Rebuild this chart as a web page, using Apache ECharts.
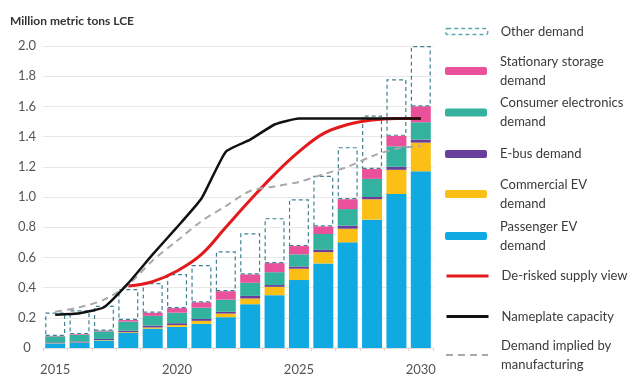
<!DOCTYPE html>
<html>
<head>
<meta charset="utf-8">
<script src="https://cdn.jsdelivr.net/npm/echarts@6/dist/echarts.min.js"></script>
<style>
html,body{margin:0;padding:0;background:#fff;}
#chart{width:644px;height:376px;}
</style>
</head>
<body>
<div id="chart"></div>
<script>
const years = ['2015','2016','2017','2018','2019','2020','2021','2022','2023','2024','2025','2026','2027','2028','2029','2030'];
const passengerEV = [0.030,0.035,0.050,0.100,0.128,0.140,0.160,0.204,0.290,0.350,0.450,0.560,0.700,0.850,1.020,1.170];
const commercialEV = [0.002,0.002,0.003,0.005,0.008,0.012,0.020,0.024,0.038,0.055,0.075,0.075,0.090,0.135,0.160,0.190];
const eBus = [0.005,0.006,0.007,0.010,0.012,0.012,0.012,0.012,0.017,0.012,0.015,0.015,0.020,0.015,0.020,0.020];
const consumerElectronics = [0.040,0.045,0.050,0.060,0.065,0.070,0.075,0.080,0.087,0.085,0.080,0.105,0.110,0.120,0.135,0.115];
const stationaryStorage = [0.003,0.004,0.005,0.010,0.020,0.030,0.035,0.056,0.055,0.060,0.055,0.050,0.065,0.065,0.070,0.105];
const otherDemand = [0.155,0.158,0.165,0.205,0.197,0.226,0.248,0.264,0.273,0.298,0.310,0.335,0.345,0.355,0.375,0.400];
const deRiskedSupply = [null,null,null,0.41,0.44,0.51,0.62,0.80,0.98,1.15,1.30,1.42,1.48,1.51,1.52,1.52];
const nameplateCapacity = [0.22,0.23,0.27,0.43,0.62,0.80,0.99,1.30,1.38,1.48,1.52,1.52,1.52,1.52,1.52,1.52];
const demandImplied = [0.24,0.27,0.32,0.42,0.58,0.71,0.84,0.94,1.04,1.07,1.10,1.15,1.20,1.27,1.32,1.34];
const yTicks = ['0','0.2','0.4','0.6','0.8','1.0','1.2','1.4','1.6','1.8','2.0'];

const legendNames = ['Other demand','Stationary storage demand','Consumer electronics demand','E-bus demand','Commercial EV demand','Passenger EV demand','De-risked supply view','Nameplate capacity','Demand implied by manufacturing'];
const legendLabels = ['Other demand','Stationary storage\ndemand','Consumer electronics\ndemand','E-bus demand','Commercial EV\ndemand','Passenger EV\ndemand','De-risked supply view','Nameplate capacity','Demand implied by\nmanufacturing'];

const FONT = 'Lato';
const legendCenters = [31.5,71,112.5,154,194,236,276,316.5,355];
const legends = legendNames.map((n,i)=>{
  const lines = legendLabels[i].split('\n').length;
  const h = lines*19;
  const lg = {
    orient:'vertical', left:445, top: legendCenters[i]-h/2, padding:0,
    itemWidth:42, itemHeight:8, itemGap:0,
    data:[n],
    formatter: ()=>legendLabels[i],
    textStyle:{fontFamily:FONT,fontSize:13,color:'#3a3a3a',lineHeight:19,padding:[0,0,0,8]}
  };
  if (i===0) { lg.itemHeight = 6; lg.itemStyle = {borderType:[4,3], borderWidth:1.4, borderColor:'#5aa6b6'}; }
  if (i>=6) { lg.itemStyle = {opacity:0}; lg.lineStyle = {width: i===8 ? 2 : 3}; }
  return lg;
});

const barW = '82%';
function barSeries(name, data, color){
  return {name, type:'bar', stack:'d', data, barWidth:barW, itemStyle:{color}, emphasis:{disabled:true}};
}

const option = {
  animation:false,
  backgroundColor:'#fff',
  title:{text:'Million metric tons LCE',left:10,top:15,padding:0,textStyle:{fontFamily:FONT,fontSize:12,fontWeight:'bold',color:'#333'}},
  legend: legends,
  grid:{left:43,right:211,top:46,bottom:23,containLabel:false},
  xAxis:{type:'category',data:years,
    axisLine:{show:true,lineStyle:{color:'#dddddd'}},
    axisTick:{show:true,interval:0,length:3,lineStyle:{color:'#e0d6c8'}},
    axisLabel:{interval:4,margin:15,fontFamily:FONT,fontSize:13,color:'#555'}},
  yAxis:{type:'value',min:0,max:2.0,interval:0.2,
    axisLine:{show:false},axisTick:{show:false},
    splitLine:{lineStyle:{color:'#e8e8e8',width:1}},
    axisLabel:{align:'center',margin:16,fontFamily:FONT,fontSize:13,color:'#555',
      formatter:(v)=>yTicks[Math.round(v/0.2)]}},
  series:[
    barSeries('Passenger EV demand', passengerEV, '#10a9e1'),
    barSeries('Commercial EV demand', commercialEV, '#fbbf16'),
    barSeries('E-bus demand', eBus, '#6a3f9c'),
    barSeries('Consumer electronics demand', consumerElectronics, '#33b29f'),
    barSeries('Stationary storage demand', stationaryStorage, '#e9519b'),
    {name:'Other demand',type:'bar',stack:'d',data:otherDemand,barWidth:barW,
      itemStyle:{color:'rgba(255,255,255,0)',borderColor:'#3f8192',borderWidth:1.2,borderType:[4,3]}},
    {name:'De-risked supply view',type:'line',data:deRiskedSupply,smooth:0.4,symbol:'none',z:4,
      lineStyle:{color:'#e3191c',width:3},itemStyle:{color:'#e3191c'}},
    {name:'Nameplate capacity',type:'line',data:nameplateCapacity,smooth:0.15,symbol:'none',z:5,
      lineStyle:{color:'#111',width:2.5},itemStyle:{color:'#111'}},
    {name:'Demand implied by manufacturing',type:'line',data:demandImplied,smooth:0.3,symbol:'none',z:4,
      lineStyle:{color:'#a9a9a9',width:2,type:[7,5]},itemStyle:{color:'#a9a9a9'}}
  ]
};
const chart = echarts.init(document.getElementById('chart'),null,{renderer:'canvas'});
chart.setOption(option);
</script>
</body>
</html>
